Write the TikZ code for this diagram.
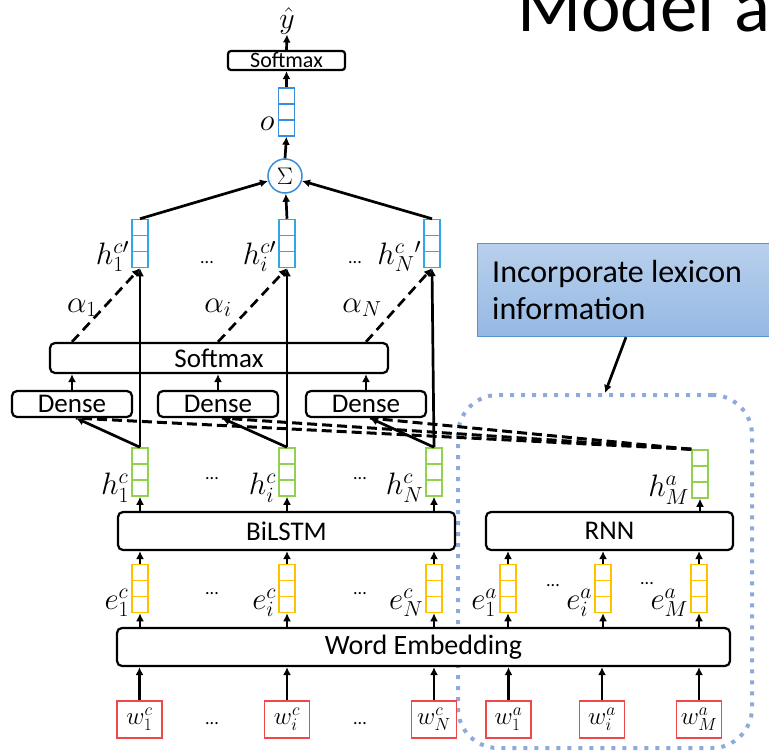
\RequirePackage{fix-cm}
\documentclass[tikz,border=0pt]{standalone}
\usepackage{fontspec}
\setmainfont{Carlito}
\usetikzlibrary{arrows.meta,calc}
\definecolor{vblue}{HTML}{2EA8E6}
\definecolor{oblue}{HTML}{3A8DD8}
\definecolor{vgreen}{HTML}{92D050}
\definecolor{vorange}{HTML}{FFC000}
\definecolor{wred}{HTML}{F04848}
\definecolor{lexdot}{HTML}{8EAADB}
\definecolor{calltop}{HTML}{B8D0EC}
\definecolor{callbot}{HTML}{95B8E3}
\definecolor{callline}{HTML}{5B93D0}
\tikzset{
  arr/.style={line width=2.7pt,-{Latex[length=8pt,width=8pt]}},
  layer/.style={draw,fill=white,line width=2.2pt,rounded corners=5pt,inner sep=0pt,
    font=\fontsize{27}{29}\selectfont},
  vec/.style={draw=#1,fill=white,line width=1.5pt,minimum width=16pt,minimum height=48pt,inner sep=0pt,
    path picture={\draw[#1,line width=1.5pt]
      ($(path picture bounding box.north west)!1/3!(path picture bounding box.south west)$) --
      ($(path picture bounding box.north east)!1/3!(path picture bounding box.south east)$)
      ($(path picture bounding box.north west)!2/3!(path picture bounding box.south west)$) --
      ($(path picture bounding box.north east)!2/3!(path picture bounding box.south east)$);}},
  word/.style={draw=wred,fill=white,line width=1.6pt,minimum width=45pt,minimum height=37pt,inner sep=0pt,
    font=\fontsize{25}{27}\selectfont},
  lbl/.style={font=\fontsize{31}{34}\selectfont,inner sep=1pt},
  ell/.style={font=\fontsize{18}{20}\selectfont,inner sep=0pt},
  dsh/.style={line width=3pt,dash pattern=on 10pt off 5pt},
}
\begin{document}
\begin{tikzpicture}[x=1pt,y=-1pt]
\useasboundingbox (0,0) rectangle (769,752);
\clip (0,0) rectangle (769,752);

% heading
\node[anchor=base west,inner sep=0pt,font=\fontsize{75}{80}\selectfont] (title) at (517,32) {Model\hspace{20pt}a};

% lexicon branch outline
\node[draw=lexdot,line width=4pt,dash pattern=on 4pt off 7pt,rounded corners=40pt,
      minimum width=294pt,minimum height=353pt,inner sep=0pt] (lexbox) at (605,571.5) {};

% callout
\node[draw=callline,line width=1.2pt,top color=calltop,bottom color=callbot,anchor=north west,
      minimum width=340pt,minimum height=93pt,inner sep=0pt] (call) at (477,243) {};
\node[anchor=west,align=left,inner sep=0pt,font=\fontsize{32}{37}\selectfont] (calltext) at (492,290)
  {Incorporate lexicon\\information};
\draw[arr] ($(call.south west)+(149,0)$) -- (lexbox.north);

% output part
\node[inner sep=0pt,font=\fontsize{30}{32}\selectfont] (yhat) at (287,21) {$\hat{y}$};
\node[layer,rounded corners=3pt,minimum width=117pt,minimum height=19pt,font=\fontsize{22}{23}\selectfont] (smtop) at (286.5,60.5) {Softmax};
\node[vec=oblue] (o) at (286.5,112) {};
\node[lbl,anchor=base east] at ($(o.south west)+(-2,-6)$) {$o$};
\node[circle,draw=oblue,fill=white,line width=1.5pt,minimum size=34pt,inner sep=0pt,font=\fontsize{24}{26}\selectfont] (sig) at (285,176) {$\Sigma$};

% attended vectors
\node[vec=vblue] (h1p) at (140,243.5) {};
\node[vec=vblue] (hip) at (287,243.5) {};
\node[vec=vblue] (hNp) at (432,243.5) {};
\node[lbl,anchor=base east] at ($(h1p.south west)+(-1,-4)$) {$h_1^{c\prime}$};
\node[lbl,anchor=base east] at ($(hip.south west)+(-1,-4)$) {$h_i^{c\prime}$};
\node[lbl,anchor=base east] at ($(hNp.south west)+(-1,-4)$) {$h_N^{c}{}^{\prime}$};
\node[ell] at (207,263) {...};
\node[ell] at (355,263) {...};

% attention layers
\node[layer,minimum width=338pt,minimum height=30pt] (sm) at (219,358) {Softmax};
\node[layer,minimum width=120pt,minimum height=26pt] (d1) at (72,404) {Dense};
\node[layer,minimum width=120pt,minimum height=26pt] (d2) at (218,404) {Dense};
\node[layer,minimum width=120pt,minimum height=26pt] (d3) at (366,404) {Dense};
\node[lbl,anchor=base] at (82,312) {$\alpha_1$};
\node[lbl,anchor=base] at (218,312) {$\alpha_i$};
\node[lbl,anchor=base] at (362,312) {$\alpha_N$};

% context hidden states
\node[vec=vgreen] (hc1) at (140,472) {};
\node[vec=vgreen] (hci) at (287,472) {};
\node[vec=vgreen] (hcN) at (434,472) {};
\node[lbl,anchor=base east] at ($(hc1.south west)+(-1,-2)$) {$h_1^{c}$};
\node[lbl,anchor=base east] at ($(hci.south west)+(-1,-2)$) {$h_i^{c}$};
\node[lbl,anchor=base east] at ($(hcN.south west)+(-1,-2)$) {$h_N^{c}$};
\node[ell] at (212,479) {...};
\node[ell] at (360,479) {...};

% lexicon hidden state
\node[vec=vgreen] (hma) at (700,474) {};
\node[lbl,anchor=base east] at ($(hma.south west)+(-1,-2)$) {$h_M^{a}$};

% recurrent layers
\node[layer,minimum width=337pt,minimum height=38pt] (bil) at (286.5,531) {BiLSTM};
\node[layer,minimum width=247pt,minimum height=38pt] (rnn) at (609.5,531) {RNN};

% embeddings
\node[vec=vorange] (ec1) at (140,588.5) {};
\node[vec=vorange] (eci) at (287,588.5) {};
\node[vec=vorange] (ecN) at (434,588.5) {};
\node[vec=vorange] (ea1) at (508,588.5) {};
\node[vec=vorange] (eai) at (603,588.5) {};
\node[vec=vorange] (eaM) at (699,588.5) {};
\node[lbl,anchor=base east] at ($(ec1.south west)+(-1,-4)$) {$e_1^{c}$};
\node[lbl,anchor=base east] at ($(eci.south west)+(-1,-4)$) {$e_i^{c}$};
\node[lbl,anchor=base east] at ($(ecN.south west)+(-1,-4)$) {$e_N^{c}$};
\node[lbl,anchor=base east] at ($(ea1.south west)+(-1,-4)$) {$e_1^{a}$};
\node[lbl,anchor=base east] at ($(eai.south west)+(-1,-4)$) {$e_i^{a}$};
\node[lbl,anchor=base east] at ($(eaM.south west)+(-1,-4)$) {$e_M^{a}$};
\node[ell] at (212,594) {...};
\node[ell] at (360,594) {...};
\node[ell] at (553,586) {...};
\node[ell] at (647,584) {...};

\node[layer,minimum width=613pt,minimum height=38pt,font=\fontsize{28}{30}\selectfont] (emb) at (423.5,647) {Word Embedding};

% input words
\node[word] (w1) at (139.5,719.5) {$w_1^{c}$};
\node[word] (wi) at (287,719.5) {$w_i^{c}$};
\node[word] (wN) at (434,719.5) {$w_N^{c}$};
\node[word] (wa1) at (508.5,719.5) {$w_1^{a}$};
\node[word] (wai) at (602,719.5) {$w_i^{a}$};
\node[word] (waM) at (699,719.5) {$w_M^{a}$};
\node[ell] at (212,724) {...};
\node[ell] at (360,724) {...};

% input to embedding
\foreach \w in {w1,wi,wN,wa1,wai,waM}
  \draw[arr] (\w.north) -- (\w.north |- emb.south);
% embedding to vectors
\foreach \e in {ec1,eci,ecN,ea1,eai,eaM}
  \draw[arr] (emb.north -| \e.south) -- (\e.south);
% vectors to recurrent layers
\foreach \e in {ec1,eci,ecN}
  \draw[arr] (\e.north) -- (\e.north |- bil.south);
\foreach \e in {ea1,eai,eaM}
  \draw[arr] (\e.north) -- (\e.north |- rnn.south);
\foreach \h in {hc1,hci,hcN}
  \draw[arr] (bil.north -| \h.south) -- (\h.south);
\draw[arr] (rnn.north -| hma.south) -- (hma.south);

% lexicon state fed to every dense layer
\foreach \d in {d1,d2,d3}
  \draw[dsh] (hma.north west) -- ($(\d.south)+(4,0)$);
% context states to dense layers
\draw[arr] (hc1.north) -- ($(d1.south)+(4,0)$);
\draw[arr] (hci.north) -- ($(d2.south)+(4,0)$);
\draw[arr] (hcN.north) -- ($(d3.south)+(4,0)$);
% dense to softmax
\foreach \d in {d1,d2,d3}
  \draw[arr] (\d.north) -- (\d.north |- sm.south);
% weights to attended vectors
\draw[arr,dash pattern=on 10pt off 6pt] (sm.north -| d1.north) -- (h1p.south);
\draw[arr,dash pattern=on 10pt off 6pt] (sm.north -| d2.north) -- (hip.south);
\draw[arr,dash pattern=on 10pt off 6pt] (sm.north -| d3.north) -- (hNp.south);
% skip connections
\draw[arr] (hc1.north) -- (h1p.south);
\draw[arr] (hci.north) -- (hip.south);
\draw[arr] (hcN.north) -- (hNp.south);

% sum and output
\draw[arr] (h1p.north) -- (sig);
\draw[arr] (hip.north) -- (sig);
\draw[arr] (hNp.north) -- (sig);
\draw[arr] (sig.north) -- (o.south);
\draw[arr] (o.north) -- (smtop.south);
\draw[arr] (smtop.north) -- (yhat.south);
\end{tikzpicture}
\end{document}
